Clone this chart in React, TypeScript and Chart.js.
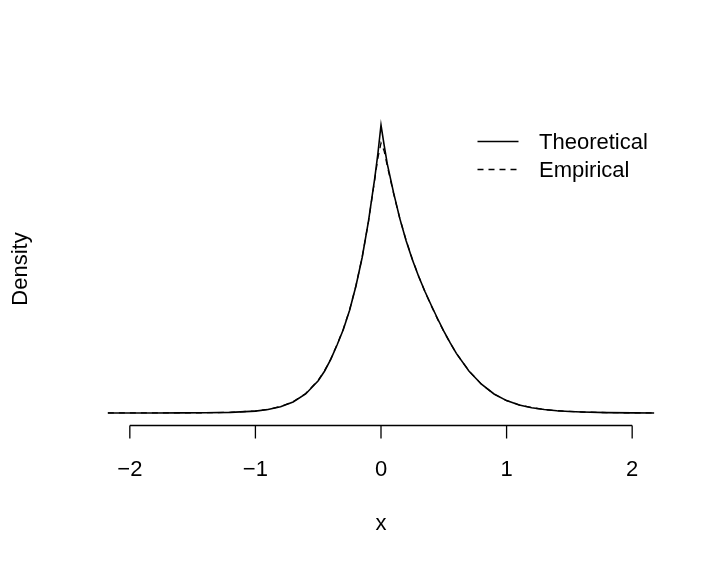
import React, { useEffect, useRef } from "react";
import { Chart, registerables } from "chart.js";

Chart.register(...registerables);

const xValues = [
  -2.175, -2.0, -1.8, -1.6, -1.4, -1.2, -1.0, -0.9, -0.8, -0.7, -0.6, -0.5, -0.45, -0.4, -0.35, -0.3,
  -0.25, -0.2, -0.15, -0.1, -0.05, -0.025, 0, 0.025, 0.05, 0.1, 0.15, 0.2, 0.25, 0.3, 0.35, 0.4, 0.45,
  0.5, 0.55, 0.6, 0.7, 0.8, 0.9, 1.0, 1.1, 1.2, 1.3, 1.4, 1.5, 1.6, 1.8, 2.0, 2.175,
];

const theoretical = [
  0.0001, 0.0001, 0.0002, 0.0004, 0.0012, 0.004, 0.0132, 0.024, 0.043, 0.076, 0.132, 0.224, 0.29, 0.372, 0.472, 0.58,
  0.714, 0.88, 1.08, 1.33, 1.63, 1.8, 2.0, 1.86, 1.73, 1.53, 1.35, 1.196, 1.064, 0.948, 0.844, 0.748, 0.656,
  0.568, 0.488, 0.414, 0.292, 0.2, 0.132, 0.086, 0.056, 0.036, 0.024, 0.0155, 0.01, 0.0064, 0.0024, 0.0008, 0.0002,
];

const empirical = [
  0.0003, 0.0003, 0.0004, 0.0007, 0.0016, 0.0046, 0.014, 0.025, 0.045, 0.078, 0.135, 0.227, 0.293, 0.375, 0.474, 0.583,
  0.717, 0.882, 1.082, 1.328, 1.62, 1.77, 1.875, 1.82, 1.715, 1.525, 1.35, 1.2, 1.067, 0.95, 0.842, 0.745, 0.652,
  0.566, 0.487, 0.414, 0.293, 0.199, 0.131, 0.086, 0.057, 0.037, 0.024, 0.016, 0.0105, 0.0068, 0.0026, 0.001, 0.0003,
];

const xTicks = [-2, -1, 0, 1, 2];
const seriesLabels = ["Theoretical", "Empirical"];
const xTitle = "x";
const yTitle = "Density";

const FONT = '"Liberation Sans", Arial, Helvetica, sans-serif';
const DASH = [6, 5];

export default function App() {
  const ref = useRef<HTMLCanvasElement>(null);

  useEffect(() => {
    document.body.style.margin = "0";
    const canvas = ref.current;
    if (!canvas) return;

    const rPlugin = {
      id: "rStyle",
      afterDraw(chart: any) {
        const c = chart.ctx as CanvasRenderingContext2D;
        const xs = chart.scales.x;
        const area = chart.chartArea;
        c.save();
        c.strokeStyle = "#000";
        c.fillStyle = "#000";
        c.lineWidth = 1.3;
        c.setLineDash([]);
        const yAxis = Math.round(area.bottom) + 0.5;
        const x0 = xs.getPixelForValue(xTicks[0]);
        const x1 = xs.getPixelForValue(xTicks[xTicks.length - 1]);
        c.beginPath();
        c.moveTo(x0, yAxis);
        c.lineTo(x1, yAxis);
        xTicks.forEach((t) => {
          const px = xs.getPixelForValue(t);
          c.moveTo(px, yAxis);
          c.lineTo(px, yAxis + 13);
        });
        c.stroke();

        c.font = `22px ${FONT}`;
        c.textAlign = "center";
        c.textBaseline = "alphabetic";
        xTicks.forEach((t) => {
          const label = t < 0 ? "\u2212" + Math.abs(t) : String(t);
          c.fillText(label, xs.getPixelForValue(t), 476);
        });
        c.fillText(xTitle, (area.left + area.right) / 2, 530);

        c.save();
        c.translate(27, (area.top + area.bottom) / 2);
        c.rotate(-Math.PI / 2);
        c.fillText(yTitle, 0, 0);
        c.restore();

        // legend
        const legY = [141.5, 169.5];
        c.lineWidth = 1.6;
        seriesLabels.forEach((lab, i) => {
          c.setLineDash(i === 0 ? [] : DASH);
          c.beginPath();
          c.moveTo(477.5, legY[i]);
          c.lineTo(518.5, legY[i]);
          c.stroke();
          c.setLineDash([]);
          c.textAlign = "left";
          c.textBaseline = "middle";
          c.fillText(lab, 539, legY[i] + 1);
        });
        c.restore();
      },
    };

    const chart = new Chart(canvas, {
      type: "line",
      data: {
        datasets: [
          {
            label: seriesLabels[0],
            data: xValues.map((x, i) => ({ x, y: theoretical[i] })),
            borderColor: "#000",
            borderWidth: 1.6,
            pointRadius: 0,
            tension: 0,
            fill: false,
          },
          {
            label: seriesLabels[1],
            data: xValues.map((x, i) => ({ x, y: empirical[i] })),
            borderColor: "#000",
            borderWidth: 1.3,
            borderDash: DASH,
            pointRadius: 0,
            tension: 0,
            fill: false,
          },
        ],
      },
      options: {
        animation: false,
        responsive: false,
        devicePixelRatio: 1,
        layout: { padding: { left: 86, right: 32, top: 113.5, bottom: 142.5 } },
        plugins: { legend: { display: false }, tooltip: { enabled: false } },
        scales: {
          x: { type: "linear", min: -2.349, max: 2.349, display: false },
          y: { type: "linear", min: -0.08, max: 2.08, display: false },
        },
      },
      plugins: [rPlugin],
    });

    return () => chart.destroy();
  }, []);

  return (
    <div style={{ position: "fixed", left: 0, top: 0, width: 708, height: 567, background: "#fff" }}>
      <canvas ref={ref} width={708} height={567} />
    </div>
  );
}
